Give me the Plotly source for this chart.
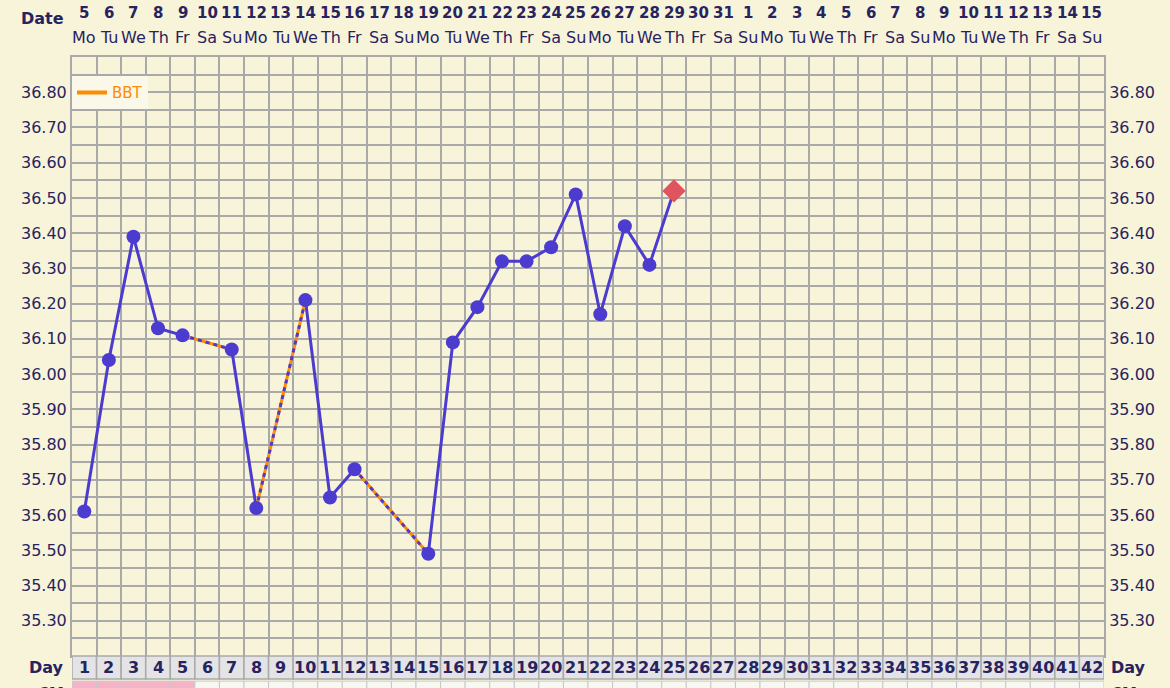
import numpy as np
import plotly.graph_objects as go

# ---------------- data ----------------
days = list(range(1, 43))
date_nums = [5, 6, 7, 8, 9, 10, 11, 12, 13, 14, 15, 16, 17, 18, 19, 20, 21, 22, 23, 24, 25, 26, 27,
             28, 29, 30, 31, 1, 2, 3, 4, 5, 6, 7, 8, 9, 10, 11, 12, 13, 14, 15]
weekdays = ["Mo", "Tu", "We", "Th", "Fr", "Sa", "Su"] * 6
temp_days = [1, 2, 3, 4, 5, 7, 8, 10, 11, 12, 15, 16, 17, 18, 19, 20, 21, 22, 23, 24, 25]
temps = [35.61, 36.04, 36.39, 36.13, 36.11, 36.07, 35.62, 36.21, 35.65, 35.73, 35.49,
         36.09, 36.19, 36.32, 36.32, 36.36, 36.51, 36.17, 36.42, 36.31, 36.52]
period_days = [1, 2, 3, 4, 5]
y_min, y_max = 35.20, 36.90

# ---------------- styles ----------------
BG = "#f8f4da"
GRID = "#a9a9a9"
NAVY = "#27235f"
PURPLE = "#4b3bcf"
ORANGE = "#ff8c00"
RED = "#e0545f"
FONT = "DejaVu Sans"

fig = go.Figure()

# solid segments between consecutive days
lookup = dict(zip(temp_days, temps))
solid_y = [lookup.get(d) for d in days]
fig.add_trace(go.Scatter(x=days, y=solid_y, mode="lines", connectgaps=False,
                         line=dict(color=PURPLE, width=3), showlegend=False, hoverinfo="skip"))

# gap segments (orange under purple dashes)
gx, gy = [], []
for i in range(len(temp_days) - 1):
    if temp_days[i + 1] - temp_days[i] > 1:
        gx += [temp_days[i], temp_days[i + 1], None]
        gy += [temps[i], temps[i + 1], None]
fig.add_trace(go.Scatter(x=gx, y=gy, mode="lines", line=dict(color=ORANGE, width=3),
                         showlegend=False, hoverinfo="skip"))
fig.add_trace(go.Scatter(x=gx, y=gy, mode="lines", line=dict(color=PURPLE, width=3, dash="4px,4px"),
                         showlegend=False, hoverinfo="skip"))

# markers
n = len(temps)
fig.add_trace(go.Scatter(
    x=temp_days, y=temps, mode="markers", showlegend=False,
    marker=dict(color=[PURPLE] * (n - 1) + [RED], opacity=1,
                symbol=["circle"] * (n - 1) + ["diamond"],
                size=[14] * (n - 1) + [18], line=dict(width=0))))

# legend entry
fig.add_trace(go.Scatter(x=[None], y=[None], mode="lines", name="BBT",
                         line=dict(color=ORANGE, width=4)))

# right axis labels trace (invisible)
fig.add_trace(go.Scatter(x=[None], y=[None], yaxis="y2", showlegend=False))

# ---------------- axes ----------------
yvals = np.round(np.arange(y_min + 0.05, y_max - 0.049, 0.05), 2)
ytext = [f"{v:.2f}" if abs(round(v * 10) - v * 10) < 1e-6 else "" for v in yvals]
yax = dict(range=[y_min, y_max], tickmode="array", tickvals=list(yvals), ticktext=ytext,
           showgrid=True, gridcolor=GRID, gridwidth=1.5, zeroline=False,
           tickfont=dict(family=FONT, size=16, color=NAVY), ticks="",
           showline=True, linecolor=GRID, linewidth=2, fixedrange=True)

fig.update_layout(
    width=1170, height=688,
    margin=dict(l=72, r=66, t=57, b=32, pad=0),
    paper_bgcolor=BG, plot_bgcolor=BG,
    font=dict(family=FONT, color=NAVY),
    xaxis=dict(range=[0.5, 42.5], tickmode="linear", tick0=0.5, dtick=1,
               showticklabels=False, showgrid=True, gridcolor=GRID, gridwidth=1.5,
               zeroline=False, showline=True, linecolor=GRID, linewidth=2, mirror=True),
    yaxis=yax,
    yaxis2=dict(yax, overlaying="y", side="right", showgrid=False, matches="y"),
    legend=dict(x=0.0, y=0.968, xanchor="left", yanchor="top", bgcolor="#faf8e9",
                borderwidth=0, font=dict(family=FONT, size=15, color=ORANGE),
                itemwidth=30, tracegroupgap=0),
)

# ---------------- header (dates / weekdays) ----------------
for d, num, wd in zip(days, date_nums, weekdays):
    fig.add_annotation(x=d, y=1.0735, xref="x", yref="paper", text=f"<b>{num}</b>",
                       showarrow=False, yanchor="middle", xanchor="center",
                       font=dict(family=FONT, size=15, color=NAVY))
    fig.add_annotation(x=d, y=1.033, xref="x", yref="paper", text=wd,
                       showarrow=False, yanchor="middle", xanchor="center",
                       font=dict(family=FONT, size=16, color=NAVY))
fig.add_annotation(x=-0.006, y=1.065, xref="paper", yref="paper", text="<b>Date</b>",
                   xanchor="right", yanchor="middle", showarrow=False,
                   font=dict(family=FONT, size=16, color=NAVY))

# ---------------- day row and CM row ----------------
row_top, row_bot = 0.0, -0.0384
cm_top, cm_bot = -0.042, -0.09
for d in days:
    fig.add_shape(type="rect", xref="x", yref="paper", x0=d - 0.5, x1=d + 0.5,
                  y0=row_bot, y1=row_top, fillcolor="#e4e4e6", line=dict(color=GRID, width=1.5),
                  layer="above")
    fig.add_annotation(x=d, y=(row_top + row_bot) / 2, xref="x", yref="paper",
                       text=f"<b>{d}</b>", showarrow=False, yanchor="middle", xanchor="center",
                       font=dict(family=FONT, size=16, color=NAVY))
    fig.add_shape(type="rect", xref="x", yref="paper", x0=d - 0.5, x1=d + 0.5,
                  y0=cm_bot, y1=cm_top,
                  fillcolor="#f4b4c8" if d in period_days else "#f8f8f2",
                  line=dict(color="#c8c8c8", width=1), layer="above")

for xpos, anc in [(-0.006, "right"), (1.005, "left")]:
    fig.add_annotation(x=xpos, y=(row_top + row_bot) / 2, xref="paper", yref="paper",
                       text="<b>Day</b>", xanchor=anc, yanchor="middle", showarrow=False,
                       font=dict(family=FONT, size=16, color=NAVY))
    fig.add_annotation(x=xpos, y=-0.045, xref="paper", yref="paper",
                       text="<b>CM</b>", xanchor=anc, yanchor="top", showarrow=False,
                       font=dict(family=FONT, size=15, color=NAVY))

fig.write_html("out.html", config={"displayModeBar": False},
               post_script="document.body.style.margin='0';")
